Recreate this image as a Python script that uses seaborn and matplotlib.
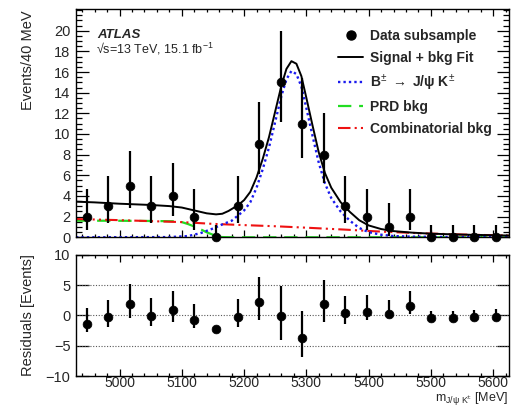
import numpy as np
import pandas as pd
import matplotlib
matplotlib.use("Agg")
import matplotlib.pyplot as plt
import seaborn as sns
from matplotlib.ticker import MultipleLocator, FixedLocator
from matplotlib.lines import Line2D

# ---------------- data ----------------
bin_centers = [4947, 4982, 5017, 5051, 5086, 5120, 5155, 5190, 5224, 5259,
               5293, 5328, 5362, 5397, 5432, 5466, 5501, 5536, 5570, 5605]
counts = [2, 3, 5, 3, 4, 2, 0, 3, 9, 15, 11, 8, 3, 2, 1, 2, 0, 0, 0, 0]
count_lo = [0.71, 1.37, 2.84, 1.37, 2.09, 0.71, 0.0, 1.37, 6.1, 11.2,
            7.7, 5.3, 1.37, 0.71, 0.17, 0.71, 0.0, 0.0, 0.0, 0.0]
count_hi = [4.64, 5.92, 8.38, 5.92, 7.16, 4.64, 1.15, 5.92, 13.1, 20.0,
            15.4, 12.0, 5.92, 4.64, 3.30, 4.64, 1.15, 1.15, 1.15, 1.15]

resid = [-1.37, -0.27, 1.8, -0.05, 0.93, -0.77, -2.24, -0.27, 2.24, -0.1,
         -3.66, 1.8, 0.33, 0.6, 0.22, 1.48, -0.44, -0.38, -0.27, -0.22]
resid_lo = [-2.68, -1.9, -0.5, -1.7, -1.04, -2.1, -2.7, -1.86, -0.77, -4.04,
            -6.9, -1.04, -1.37, -0.7, -0.5, 0.16, -1.04, -0.87, -0.77, -0.71]
resid_hi = [1.15, 2.5, 5.1, 2.8, 4.0, 1.9, -1.7, 2.7, 6.3, 4.8,
            0.7, 5.8, 3.2, 3.33, 2.5, 4.0, 0.7, 0.7, 0.87, 0.98]

fit_x = [4930, 4960, 5000, 5050, 5080, 5100, 5120, 5140, 5155, 5165, 5175,
         5190, 5200, 5210, 5220, 5230, 5240, 5250, 5260, 5268, 5276, 5284,
         5292, 5300, 5310, 5320, 5330, 5340, 5355, 5370, 5385, 5400, 5420,
         5440, 5470, 5500, 5550, 5625]
fit_y = [3.45, 3.38, 3.25, 3.13, 3.02, 2.88, 2.6, 2.32, 2.22, 2.28, 2.55,
         3.1, 3.6, 4.4, 5.8, 7.6, 9.7, 12.2, 14.7, 16.3, 17.05, 16.8,
         15.6, 13.5, 10.8, 8.2, 6.2, 4.8, 3.4, 2.45, 1.65, 1.15, 0.8,
         0.6, 0.45, 0.35, 0.26, 0.17]

sig_x = [4930, 5080, 5110, 5130, 5150, 5165, 5180, 5190, 5200, 5210, 5220,
         5230, 5240, 5250, 5260, 5268, 5276, 5284, 5292, 5300, 5310, 5320,
         5330, 5340, 5355, 5370, 5385, 5400, 5420, 5440, 5470, 5520, 5625]
sig_y = [0.0, 0.02, 0.12, 0.4, 0.85, 1.25, 1.6, 2.1, 2.6, 3.4, 4.8,
         6.6, 8.7, 11.2, 13.7, 15.3, 16.1, 15.8, 14.6, 12.5, 9.8, 7.2,
         5.2, 3.8, 2.5, 1.6, 0.9, 0.5, 0.25, 0.12, 0.06, 0.03, 0.02]

prd_x = [4930, 5000, 5050, 5090, 5100, 5110, 5125, 5140, 5155, 5165, 5180, 5625]
prd_y = [1.61, 1.6, 1.58, 1.55, 1.47, 1.28, 0.93, 0.48, 0.13, 0.02, 0.0, 0.0]

comb_x = [4930, 5000, 5100, 5150, 5200, 5250, 5300, 5360, 5420, 5480, 5550, 5625]
comb_y = [1.77, 1.66, 1.47, 1.3, 1.18, 1.07, 0.93, 0.75, 0.55, 0.4, 0.27, 0.17]

top_yticks = [0, 2, 4, 6, 8, 10, 12, 14, 16, 18, 20]
res_yticks = [-10, -5, 0, 5, 10]
resid_lines = [-5, 0, 5]

labels = ["Data subsample", "Signal + bkg Fit",
          r"B$^{\pm}$ $\rightarrow$ J/ψ K$^{\pm}$",
          "PRD bkg", "Combinatorial bkg"]

# ---------------- style ----------------
sns.set_style("ticks")
plt.rcParams['font.family'] = ['Liberation Sans', 'DejaVu Sans']
plt.rcParams['mathtext.fontset'] = 'custom'
plt.rcParams['mathtext.rm'] = 'Liberation Sans'
plt.rcParams['mathtext.it'] = 'Liberation Sans:italic'
plt.rcParams['mathtext.bf'] = 'Liberation Sans:bold'
plt.rcParams['mathtext.sf'] = 'Liberation Sans'

fig = plt.figure(figsize=(5.14, 4.07), dpi=100)
ax1 = fig.add_axes([76/514, 1-237.3/407, (508.7-76)/514, (237.3-9.3)/407])
ax2 = fig.add_axes([76/514, 1-376/407, (508.7-76)/514, (376-254.7)/407])

df_data = pd.DataFrame({"m": bin_centers, "n": counts})
df_res = pd.DataFrame({"m": bin_centers, "r": resid})

BLUE = "#1a1aee"
GREEN = "#22dd22"
RED = "#ee1111"
ls_sig = (0, (1, 1.3))
ls_prd = (0, (6, 3.5))
ls_comb = (0, (6, 2, 1, 2, 1, 2))

# curves
sns.lineplot(x=prd_x, y=prd_y, ax=ax1, color=GREEN, lw=1.6,
             linestyle=ls_prd, estimator=None, sort=False)
sns.lineplot(x=comb_x, y=comb_y, ax=ax1, color=RED, lw=1.5,
             linestyle=ls_comb, estimator=None, sort=False)
sns.lineplot(x=sig_x, y=sig_y, ax=ax1, color=BLUE, lw=1.7,
             linestyle=ls_sig, estimator=None, sort=False)
sns.lineplot(x=fit_x, y=fit_y, ax=ax1, color="black", lw=1.4,
             estimator=None, sort=False)

# data
ax1.vlines(bin_centers, count_lo, count_hi, color="black", lw=1.6, zorder=5)
sns.scatterplot(data=df_data, x="m", y="n", ax=ax1, color="black", s=40,
                edgecolor="black", zorder=6, clip_on=False)

for lvl in resid_lines:
    ax2.axhline(lvl, color="0.35", lw=0.8, linestyle=(0, (1, 1.5)), zorder=1)
ax2.vlines(bin_centers, resid_lo, resid_hi, color="black", lw=1.6, zorder=5)
sns.scatterplot(data=df_res, x="m", y="r", ax=ax2, color="black", s=40,
                edgecolor="black", zorder=6)

# axes
for ax in (ax1, ax2):
    ax.set_xlim(4930, 5625)
    ax.xaxis.set_major_locator(MultipleLocator(100))
    ax.xaxis.set_minor_locator(MultipleLocator(20))
    ax.tick_params(which='both', direction='in', top=True, right=True,
                   labelsize=10.5, width=0.9, color='black')
    ax.tick_params(axis='x', which='major', length=5, pad=0, labelsize=10)
    ax.tick_params(axis='x', which='minor', length=2.5)
    ax.tick_params(axis='y', which='major', length=9, pad=4)
    ax.tick_params(axis='y', which='minor', length=4.5)
    ax.set_xlabel("")
    ax.set_ylabel("")
    for sp in ax.spines.values():
        sp.set_visible(True)
        sp.set_linewidth(1.0)
        sp.set_color('black')

ax1.set_ylim(0, 22.07)
ax1.yaxis.set_major_locator(FixedLocator(top_yticks))
ax1.yaxis.set_minor_locator(MultipleLocator(0.5))
ax1.tick_params(axis='x', labelbottom=False)

ax2.set_ylim(-10, 10)
ax2.yaxis.set_major_locator(FixedLocator(res_yticks))
ax2.yaxis.set_minor_locator(FixedLocator([]))

# texts
fig.text(28/514, 1-10/407, "Events/40 MeV", rotation=90, ha='center',
         va='top', size=10.5)
fig.text(28/514, 1-315/407, "Residuals [Events]", rotation=90, ha='center',
         va='center', size=10.5)
fig.text(508/514, 1-406.8/407, r"m$_{\mathrm{J/\psi\ K^{\pm}}}$ [MeV]",
         ha='right', va='bottom', size=9)
fig.text(97/514, 1-35.5/407, "ATLAS", weight='bold', style='italic',
         size=9.5, va='center')
fig.text(96/514, 1-49/407, "√s=13 TeV, 15.1 fb$^{-1}$",
         size=9, va='center')

handles = [
    Line2D([], [], marker='o', color='black', ls='none', markersize=6.5),
    Line2D([], [], color='black', lw=1.4),
    Line2D([], [], color=BLUE, lw=1.7, linestyle=ls_sig),
    Line2D([], [], color=GREEN, lw=1.6, linestyle=ls_prd),
    Line2D([], [], color=RED, lw=1.5, linestyle=ls_comb),
]
fig.legend(handles, labels, loc='upper left',
           bbox_to_anchor=(338/514, 1-29/407), frameon=False,
           prop=dict(weight='bold', size=10), handlelength=1.8,
           handletextpad=0.5, labelspacing=0.55, borderpad=0,
           borderaxespad=0)

fig.savefig("out.png", dpi=100)
